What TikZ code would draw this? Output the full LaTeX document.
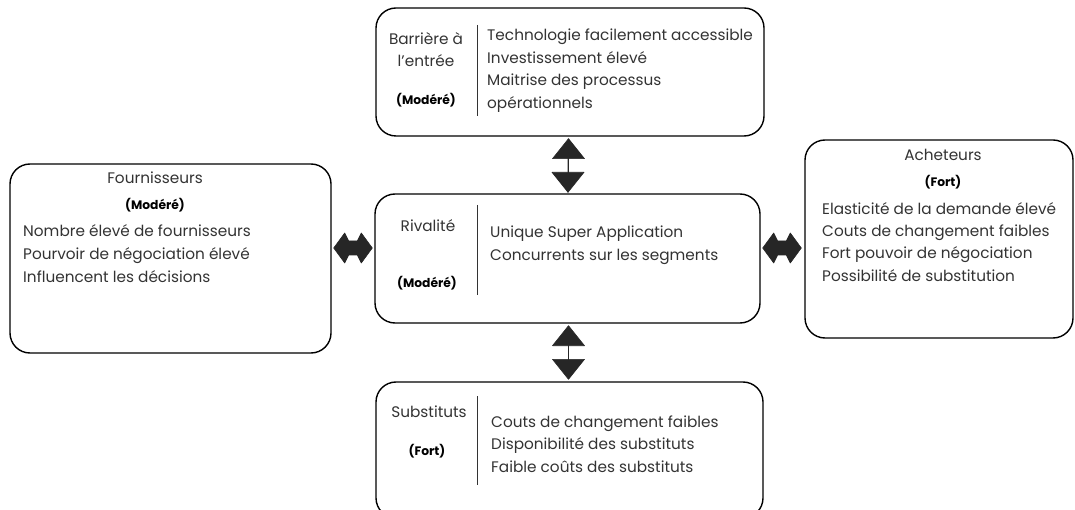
\documentclass[tikz,border=0pt]{standalone}
\usepackage{fontspec}
\setmainfont{Poppins}
\usetikzlibrary{calc}
\definecolor{txt}{HTML}{333333}
\definecolor{arr}{HTML}{262626}
\begin{document}
\begin{tikzpicture}[x=1pt,y=-1pt,
  box/.style={draw=black, line width=1.4pt, rounded corners=20pt, inner sep=0pt},
  lbl/.style={text=txt, inner sep=0pt, anchor=base, font=\fontsize{15.3}{18}\selectfont},
  item/.style={text=txt, inner sep=0pt, anchor=base west, font=\fontsize{15.3}{18}\selectfont},
  lvl/.style={text=black, inner sep=0pt, anchor=base, font=\fontsize{12.3}{14}\selectfont\bfseries},
  divider/.style={draw=txt, line width=0.9pt},
  shaft/.style={draw=arr, line width=1.3pt},
  head/.style={fill=arr, draw=arr, line width=0.6pt, line join=round},
  harrow/.style={fill=arr, draw=arr, line width=0.6pt, line join=round}
]
\useasboundingbox (0,0) rectangle (1075,510);

% boxes
\node[box, minimum width=388pt, minimum height=128pt] (barr) at (570,72) {};
\node[box, minimum width=385pt, minimum height=129pt] (riv) at (567.5,258.5) {};
\node[box, minimum width=387pt, minimum height=136pt] (sub) at (569.5,450) {};
\node[box, minimum width=321pt, minimum height=189pt] (four) at (170.5,258.5) {};
\node[box, minimum width=268pt, minimum height=198pt] (ach) at (939,239) {};

% Barriere
\node[lbl] (bt1) at (426,45) {Barrière à};
\node[lbl] (bt2) at (426,67) {l'entrée};
\node[lvl] (bl) at (426,105) {(Modéré)};
\draw[divider] (477,25) -- (477,116);
\node[item] (b1) at (487,40.5) {Technologie facilement accessible};
\node[item] (b2) at (487,63.5) {Investissement élevé};
\node[item] (b3) at (487,85.5) {Maitrise des processus};
\node[item] (b4) at (487,108.5) {opérationnels};

% Rivalite
\node[lbl] (rt) at (428,232) {Rivalité};
\node[lvl] (rl) at (427,287.5) {(Modéré)};
\draw[divider] (477,205) -- (477,295);
\node[item] (r1) at (490,238) {Unique Super Application};
\node[item] (r2) at (490,261) {Concurrents sur les segments};

% Substituts
\node[lbl] (st) at (429,417) {Substituts};
\node[lvl] (sl) at (427,455.5) {(Fort)};
\draw[divider] (477,396) -- (477,485);
\node[item] (s1) at (491,427) {Couts de changement faibles};
\node[item] (s2) at (491,449) {Disponibilité des substituts};
\node[item] (s3) at (491,472) {Faible coûts des substituts};

% Fournisseurs
\node[lbl] (ft) at (155,184) {Fournisseurs};
\node[lvl] (fl) at (155,209.5) {(Modéré)};
\node[item] (f1) at (23,237) {Nombre élevé de fournisseurs};
\node[item] (f2) at (23,260) {Pourvoir de négociation élevé};
\node[item] (f3) at (23,283) {Influencent les décisions};

% Acheteurs
\node[lbl] (at) at (943,161) {Acheteurs};
\node[lvl] (al) at (943,186.5) {(Fort)};
\node[item] (a1) at (822,215) {Elasticité de la demande élevé};
\node[item] (a2) at (822,237) {Couts de changement faibles};
\node[item] (a3) at (822,259) {Fort pouvoir de négociation};
\node[item] (a4) at (822,282) {Possibilité de substitution};

% vertical connectors: barr <-> riv
\coordinate (v1a) at ($(barr.south)+(-1.5,2)$);
\coordinate (v1b) at ($(riv.north)+(0.5,-1)$);
\draw[shaft] (v1a) -- (v1b);
\filldraw[head] (v1a) -- ++(-16,20) -- ++(32,0) -- cycle;
\filldraw[head] (v1b) -- ++(-16,-20) -- ++(32,0) -- cycle;

% vertical connectors: riv <-> sub
\coordinate (v2a) at ($(riv.south)+(1,2)$);
\coordinate (v2b) at ($(sub.north)+(-1,-2)$);
\draw[shaft] (v2a) -- (v2b);
\filldraw[head] (v2a) -- ++(-16,20) -- ++(32,0) -- cycle;
\filldraw[head] (v2b) -- ++(-16,-20) -- ++(32,0) -- cycle;

% horizontal connectors
\coordinate (h1a) at ($(four.east)+(2,-10.5)$);
\coordinate (h1b) at ($(riv.west)+(-2,-10.5)$);
\filldraw[harrow] (h1a) -- ++(11,-15) -- ++(4,8) -- ($(h1b)+(-15,-7)$) -- ++(4,-8) -- (h1b)
  -- ++(-11,15) -- ++(-4,-8) -- ($(h1a)+(15,7)$) -- ++(-4,8) -- cycle;

\coordinate (h2a) at ($(riv.east)+(2,-10.5)$);
\coordinate (h2b) at ($(riv.east -| ach.west)+(-3,-10.5)$);
\filldraw[harrow] (h2a) -- ++(11,-15) -- ++(4,8) -- ($(h2b)+(-15,-7)$) -- ++(4,-8) -- (h2b)
  -- ++(-11,15) -- ++(-4,-8) -- ($(h2a)+(15,7)$) -- ++(-4,8) -- cycle;
\end{tikzpicture}
\end{document}
